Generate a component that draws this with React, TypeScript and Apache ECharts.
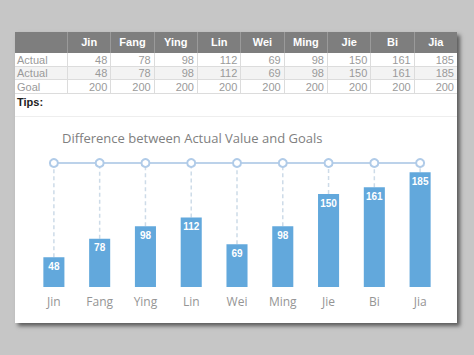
import React, { useEffect, useRef } from "react";
import * as echarts from "echarts";

const categories = ["Jin", "Fang", "Ying", "Lin", "Wei", "Ming", "Jie", "Bi", "Jia"];
const actualValues = [48, 78, 98, 112, 69, 98, 150, 161, 185];
const goalValues = [200, 200, 200, 200, 200, 200, 200, 200, 200];
const rowLabels = ["Actual", "Actual", "Goal"];
const chartTitle = "Difference between Actual Value and Goals";

const FONT = "'Liberation Sans', Arial, sans-serif";

function Chart() {
  const ref = useRef<HTMLDivElement>(null);
  useEffect(() => {
    if (!ref.current) return;
    const chart = echarts.init(ref.current, undefined, { renderer: "svg" });
    chart.setOption({
      animation: false,
      title: {
        text: chartTitle,
        left: 42,
        top: 9,
        textStyle: { fontSize: 13, fontWeight: "normal", color: "#808080", fontFamily: "'Open Sans', 'Noto Sans', sans-serif" },
      },
      grid: { left: 16, right: 14, top: 46, bottom: 36 },
      xAxis: {
        type: "category",
        data: categories,
        axisLine: { show: false },
        axisTick: { show: false },
        axisLabel: { color: "#959595", fontSize: 12, margin: 8, fontFamily: "'Open Sans', 'Noto Sans', sans-serif" },
      },
      yAxis: { type: "value", min: 0, max: 200, show: false },
      series: [
        {
          type: "custom",
          z: 1,
          data: categories.map((_, i) => [i, actualValues[i], goalValues[i]]),
          renderItem: (params: any, api: any) => {
            const i = api.value(0);
            const p1 = api.coord([i, api.value(1)]);
            const p2 = api.coord([i, api.value(2)]);
            return {
              type: "line",
              shape: { x1: p1[0], y1: p1[1], x2: p2[0], y2: p2[1] },
              style: { stroke: "#cddbe8", lineWidth: 1.5, lineDash: [4, 3] },
            };
          },
        },
        {
          type: "bar",
          z: 2,
          data: actualValues,
          barWidth: "46%",
          itemStyle: { color: "#62a8dc" },
          label: {
            show: true,
            position: "insideTop",
            distance: 4,
            color: "#ffffff",
            fontSize: 10,
            fontWeight: "bold",
            fontFamily: FONT,
          },
        },
        {
          type: "line",
          z: 3,
          data: goalValues,
          symbol: "emptyCircle",
          symbolSize: 8,
          lineStyle: { color: "#bcd2ea", width: 2 },
          itemStyle: { color: "#b0cbe8", borderWidth: 2 },
        },
      ],
    });
    return () => chart.dispose();
  }, []);
  return <div ref={ref} style={{ position: "absolute", left: 15, top: 117, width: 442, height: 206 }} />;
}

export default function App() {
  const colLeft = 15;
  const firstW = 52;
  const colW = 390 / 9;
  const rowTops = [53, 67, 80];
  const rowHs = [14, 13, 14];
  const cellBorder = "1px solid #dcdcdc";
  return (
    <div style={{ position: "fixed", left: 0, top: 0, width: 474, height: 355, background: "#c6c6c6", overflow: "hidden", fontFamily: FONT }}>
      <div
        style={{
          position: "absolute",
          left: 15,
          top: 32,
          width: 442,
          height: 291,
          background: "#ffffff",
          boxShadow: "3px 3px 4px rgba(0,0,0,0.55)",
        }}
      />
      <div style={{ position: "absolute", left: colLeft, top: 32, width: 442, height: 21, background: "#7e7e7e" }} />
      {categories.map((c, i) => (
        <div
          key={"h" + c}
          style={{
            position: "absolute",
            left: colLeft + firstW + i * colW,
            top: 32,
            width: colW,
            height: 21,
            lineHeight: "21px",
            textAlign: "center",
            color: "#ffffff",
            fontWeight: "bold",
            fontSize: 11,
            borderLeft: "1px solid #9a9a9a",
            boxSizing: "border-box",
          }}
        >
          {c}
        </div>
      ))}
      {rowLabels.map((r, ri) => {
        const vals = ri === 2 ? goalValues : actualValues;
        return (
          <React.Fragment key={"r" + ri}>
            <div
              style={{
                position: "absolute",
                left: colLeft,
                top: rowTops[ri],
                width: 442,
                height: rowHs[ri],
                background: ri === 1 ? "#f3f3f3" : "#ffffff",
                borderBottom: cellBorder,
                boxSizing: "border-box",
              }}
            />
            <div
              style={{
                position: "absolute",
                left: colLeft + 2,
                top: rowTops[ri],
                width: firstW,
                height: rowHs[ri],
                lineHeight: rowHs[ri] + "px",
                color: "#9a9a9a",
                fontSize: 11,
              }}
            >
              {r}
            </div>
            {vals.map((v, i) => (
              <div
                key={i}
                style={{
                  position: "absolute",
                  left: colLeft + firstW + i * colW,
                  top: rowTops[ri],
                  width: colW,
                  height: rowHs[ri],
                  lineHeight: rowHs[ri] + "px",
                  textAlign: "right",
                  paddingRight: 3,
                  boxSizing: "border-box",
                  color: "#9a9a9a",
                  fontSize: 11,
                  borderLeft: cellBorder,
                }}
              >
                {v}
              </div>
            ))}
          </React.Fragment>
        );
      })}
      <div style={{ position: "absolute", left: 17, top: 95, fontSize: 11, fontWeight: "bold", color: "#222", lineHeight: "14px" }}>Tips:</div>
      <div style={{ position: "absolute", left: 15, top: 116, width: 442, height: 1, background: "#eeeeee" }} />
      <Chart />
    </div>
  );
}
